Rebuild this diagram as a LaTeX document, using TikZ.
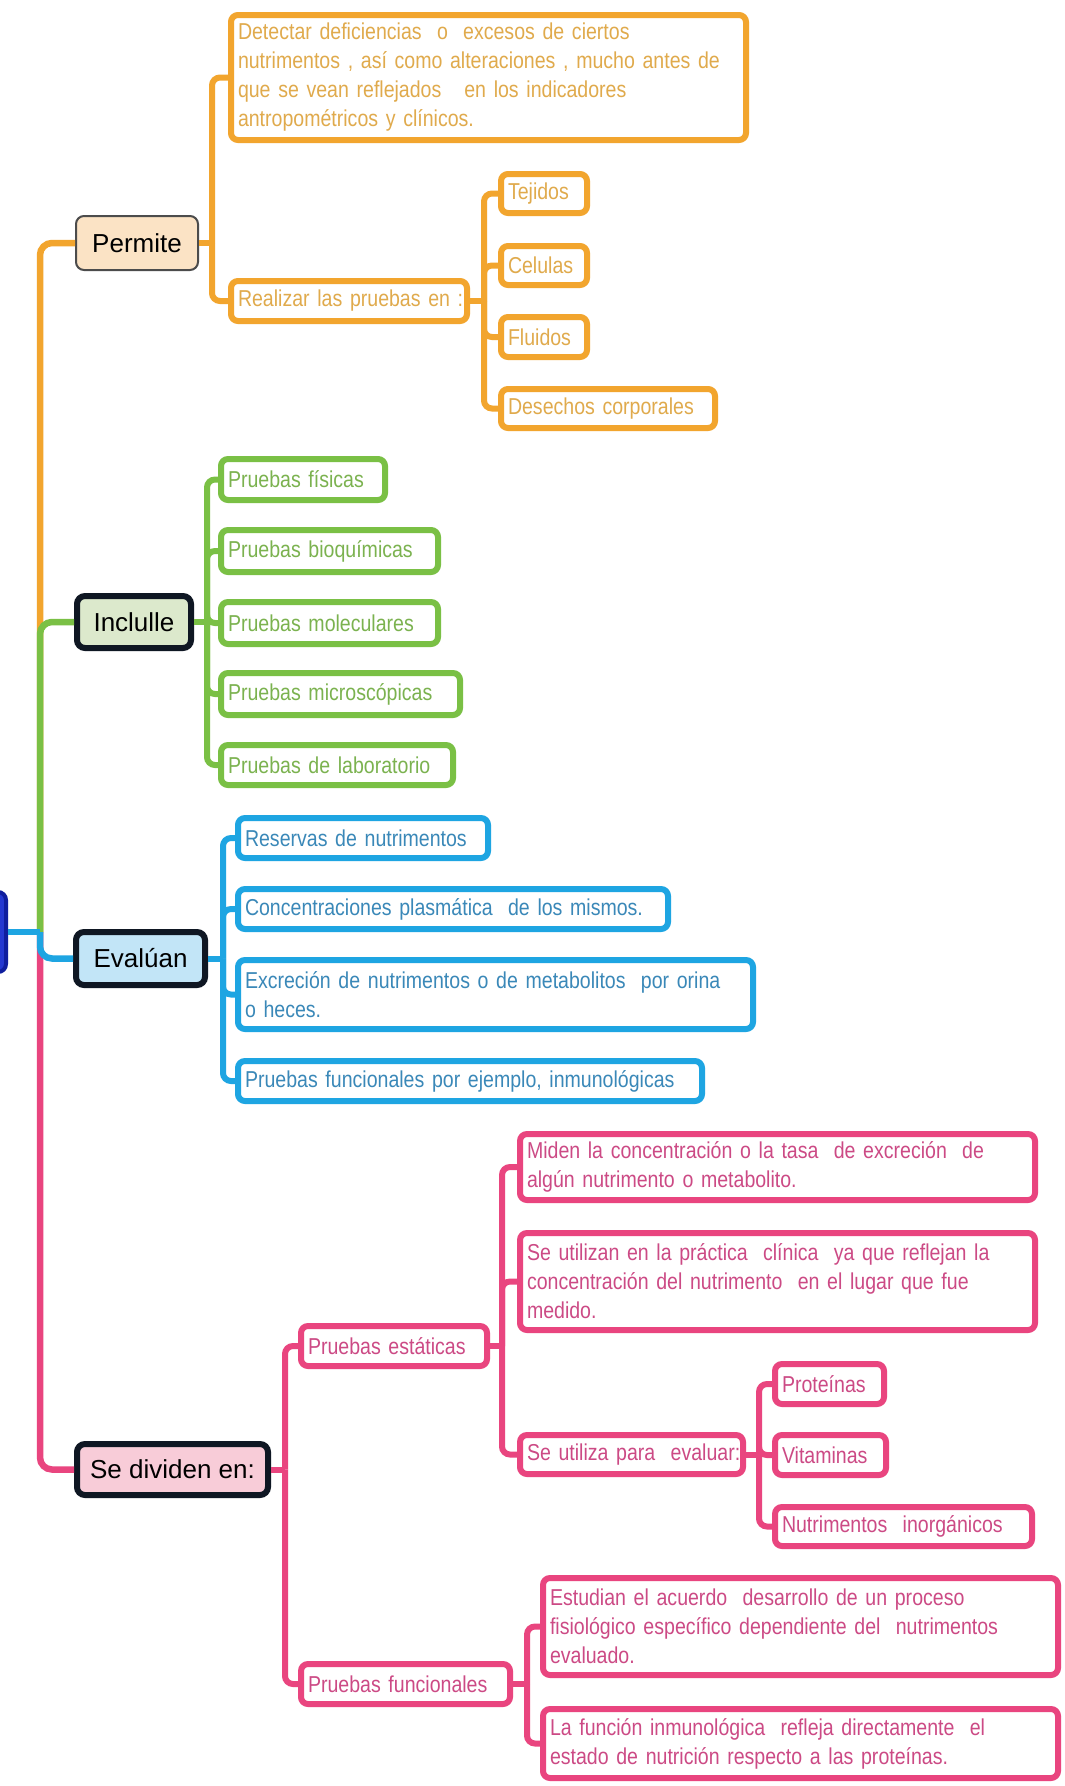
\documentclass[tikz,border=0pt]{standalone}
\usepackage{fontspec}
\setmainfont{Liberation Sans}
\newfontfamily\leaffont{Liberation Sans}[FakeStretch=0.85]

\definecolor{orangeC}{HTML}{F2A52E}
\definecolor{orangeT}{HTML}{E0AA4C}
\definecolor{greenC}{HTML}{7AC045}
\definecolor{greenT}{HTML}{7BB24F}
\definecolor{blueC}{HTML}{1EA5E2}
\definecolor{blueT}{HTML}{3A88B8}
\definecolor{pinkC}{HTML}{E9457F}
\definecolor{pinkT}{HTML}{CC4A85}
\definecolor{mainBorder}{HTML}{0F1723}
\definecolor{rootFill}{HTML}{2438D0}
\definecolor{rootBorder}{HTML}{0F1E9E}

% one unbreakable line of box text
\newcommand\oneline[1]{\mbox{#1}}

\tikzset{
  leaf/.style={draw, line width=6pt, rounded corners=7pt, fill=white,
    anchor=west, align=left, inner xsep=7pt, inner ysep=0pt,
    font=\leaffont\fontsize{23}{29}\selectfont},
  obox/.style={leaf, draw=orangeC, text=orangeT},
  gbox/.style={leaf, draw=greenC, text=greenT},
  bbox/.style={leaf, draw=blueC, text=blueT},
  pbox/.style={leaf, draw=pinkC, text=pinkT},
  mainbox/.style={draw=mainBorder, line width=6pt, rounded corners=8pt,
    anchor=west, inner sep=0pt, text=black,
    font=\fontsize{26}{30}\selectfont},
  con/.style={line width=6pt},
  branch/.style={line width=6pt, rounded corners=8pt},
  trunk/.style={line width=6.5pt, rounded corners=12pt},
}

\begin{document}
\begin{tikzpicture}[x=1pt, y=-1pt]
\fill[white] (0,0) rectangle (1065,1786);
\path[use as bounding box] (0,0) rectangle (1065,1786);

% root, mostly beyond the left edge
\begin{scope}
  \clip (0,0) rectangle (1065,1786);
  \node[draw=rootBorder, fill=rootFill, line width=4pt, rounded corners=8pt,
        minimum width=70pt, minimum height=80pt, anchor=east, inner sep=0pt]
        (root) at (8,932) {};
\end{scope}

% main topics
\node[mainbox, draw=black!70, line width=2pt, fill={rgb,255:red,251;green,227;blue,197},
      minimum width=122pt, minimum height=54pt] (perm) at (75,243) {Permite};
\node[mainbox, fill={rgb,255:red,220;green,233;blue,204},
      minimum width=114pt, minimum height=52pt] (incl) at (74,622) {Inclulle};
\node[mainbox, fill={rgb,255:red,194;green,229;blue,247},
      minimum width=129pt, minimum height=53pt] (eval) at (73,958.5) {Evalúan};
\node[mainbox, fill={rgb,255:red,248;green,204;blue,216},
      minimum width=191pt, minimum height=51pt] (sed) at (74,1469.5) {Se dividen en:};

% trunk
\coordinate (hub) at (40,932);
\draw[trunk, orangeC] (hub) |- (perm.west);
\draw[trunk, greenC] (hub) |- (incl.west);
\draw[trunk, pinkC] (hub) |- (sed.west);
\draw[trunk, blueC] (hub) |- (eval.west);
\draw[trunk, blueC] (root.east) -- (hub);

% ---- Permite ----
\node[obox, text width=501pt, minimum height=125pt] (det) at (228,77.5)
  {\oneline{Detectar deficiencias\ \ o\ \ excesos de ciertos}\\
   \oneline{nutrimentos , así como alteraciones , mucho antes de}\\
   \oneline{que se vean reflejados\ \ \ en los indicadores}\\
   \oneline{antropométricos y clínicos.}};
\node[obox, text width=222pt, minimum height=40pt] (real) at (228,301)
  {\oneline{Realizar las pruebas en :}};
\node[obox, text width=72pt, minimum height=39pt] (tej) at (498,193.5) {\oneline{Tejidos}};
\node[obox, text width=72pt, minimum height=39pt] (cel) at (498,265.5) {\oneline{Celulas}};
\node[obox, text width=72pt, minimum height=40pt] (flu) at (498,337) {\oneline{Fluidos}};
\node[obox, text width=200pt, minimum height=39pt] (des) at (498,408.5) {\oneline{Desechos corporales}};

\coordinate (permJ) at (212,243);
\draw[con, orangeC] (perm.east) -- (permJ);
\draw[branch, orangeC] (permJ) |- (det.west);
\draw[branch, orangeC] (permJ) |- (real.west);

\coordinate (realJ) at (484,301);
\draw[con, orangeC] (real.east) -- (realJ);
\foreach \n in {tej, cel, flu, des}
  \draw[branch, orangeC] (realJ) |- (\n.west);

% ---- Inclulle ----
\node[gbox, text width=150pt, minimum height=41pt] (fis) at (218,479.5) {\oneline{Pruebas físicas}};
\node[gbox, text width=203pt, minimum height=42pt] (bio) at (218,551) {\oneline{Pruebas bioquímicas}};
\node[gbox, text width=203pt, minimum height=42pt] (mol) at (218,623) {\oneline{Pruebas moleculares}};
\node[gbox, text width=225pt, minimum height=42pt] (mic) at (218,694) {\oneline{Pruebas microscópicas}};
\node[gbox, text width=218pt, minimum height=40pt] (lab) at (218,765) {\oneline{Pruebas de laboratorio}};

\coordinate (inclJ) at (207,622);
\draw[con, greenC] (incl.east) -- (inclJ);
\foreach \n in {fis, bio, mol, mic, lab}
  \draw[branch, greenC] (inclJ) |- (\n.west);

% ---- Evalúan ----
\node[bbox, text width=236pt, minimum height=40pt] (res) at (235,838) {\oneline{Reservas de nutrimentos}};
\node[bbox, text width=416pt, minimum height=40pt] (con) at (235,909)
  {\oneline{Concentraciones plasmática\ \ de los mismos.}};
\node[bbox, text width=501pt, minimum height=69pt] (exc) at (235,994.5)
  {\oneline{Excreción de nutrimentos o de metabolitos\ \ por orina}\\
   \oneline{o heces.}};
\node[bbox, text width=450pt, minimum height=40pt] (fun) at (235,1081)
  {\oneline{Pruebas funcionales por ejemplo, inmunológicas}};

\coordinate (evalJ) at (223,958.5);
\draw[con, blueC] (eval.east) -- (evalJ);
\foreach \n in {res, con, exc, fun}
  \draw[branch, blueC] (evalJ) |- (\n.west);

% ---- Se dividen en ----
\node[pbox, text width=172pt, minimum height=40pt] (est) at (298,1346) {\oneline{Pruebas estáticas}};
\node[pbox, text width=195pt, minimum height=40pt] (fnc) at (298,1684) {\oneline{Pruebas funcionales}};

\coordinate (sedJ) at (285,1469.5);
\draw[con, pinkC] (sed.east) -- (sedJ);
\draw[branch, pinkC] (sedJ) |- (est.west);
\draw[branch, pinkC] (sedJ) |- (fnc.west);

\node[pbox, text width=501pt, minimum height=66pt] (mid) at (517,1167)
  {\oneline{Miden la concentración o la tasa\ \ de excreción\ \ de}\\
   \oneline{algún nutrimento o metabolito.}};
\node[pbox, text width=501pt, minimum height=97pt] (uti) at (517,1281.5)
  {\oneline{Se utilizan en la práctica\ \ clínica\ \ ya que reflejan la}\\
   \oneline{concentración del nutrimento\ \ en el lugar que fue}\\
   \oneline{medido.}};
\node[pbox, text width=209pt, minimum height=39pt] (eva) at (517,1454.5)
  {\oneline{Se utiliza para\ \ evaluar:}};

\coordinate (estJ) at (502,1346);
\draw[con, pinkC] (est.east) -- (estJ);
\foreach \n in {mid, uti, eva}
  \draw[branch, pinkC] (estJ) |- (\n.west);

\node[pbox, text width=95pt, minimum height=40pt] (pro) at (772,1384) {\oneline{Proteínas}};
\node[pbox, text width=97pt, minimum height=40pt] (vit) at (772,1455) {\oneline{Vitaminas}};
\node[pbox, text width=243pt, minimum height=39pt] (ino) at (772,1526.5)
  {\oneline{Nutrimentos\ \ inorgánicos}};

\coordinate (evaJ) at (759,1454.5);
\draw[con, pinkC] (eva.east) -- (evaJ);
\foreach \n in {pro, vit, ino}
  \draw[branch, pinkC] (evaJ) |- (\n.west);

\node[pbox, text width=501pt, minimum height=97pt] (estu) at (540,1626.5)
  {\oneline{Estudian el acuerdo\ \ desarrollo de un proceso}\\
   \oneline{fisiológico específico dependiente del\ \ nutrimentos}\\
   \oneline{evaluado.}};
\node[pbox, text width=501pt, minimum height=69pt] (lafu) at (540,1743.5)
  {\oneline{La función inmunológica\ \ refleja directamente\ \ el}\\
   \oneline{estado de nutrición respecto a las proteínas.}};

\coordinate (fncJ) at (527,1684);
\draw[con, pinkC] (fnc.east) -- (fncJ);
\draw[branch, pinkC] (fncJ) |- (estu.west);
\draw[branch, pinkC] (fncJ) |- (lafu.west);
\end{tikzpicture}
\end{document}
